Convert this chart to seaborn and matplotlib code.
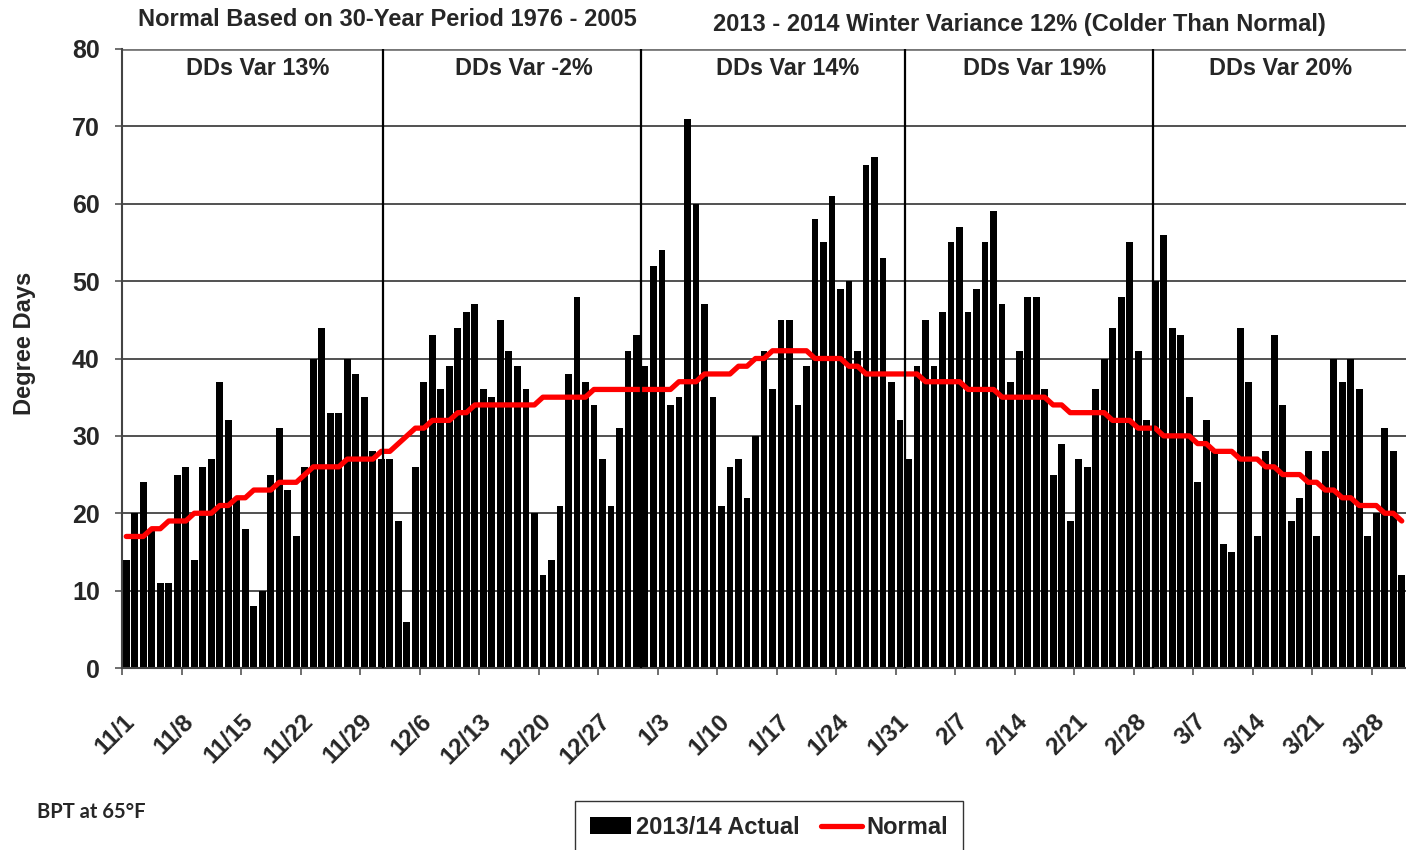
import numpy as np
import pandas as pd
import matplotlib
matplotlib.use("Agg")
import matplotlib.pyplot as plt
import matplotlib.transforms as mtransforms
import seaborn as sns

# ---- data ----
actual_nov = [14, 20, 24, 18, 11, 11, 25, 26, 14, 26, 27, 37, 32, 22, 18, 8, 10, 25, 31, 23,
              17, 26, 40, 44, 33, 33, 40, 38, 35, 28]
actual_dec = [27, 27, 19, 6, 26, 37, 43, 36, 39, 44, 46, 47, 36, 35, 45, 41, 39, 36, 20, 12,
              14, 21, 38, 48, 37, 34, 27, 21, 31, 41, 43]
actual_jan = [39, 52, 54, 34, 35, 71, 60, 47, 35, 21, 26, 27, 22, 30, 41, 36, 45, 45, 34, 39,
              58, 55, 61, 49, 50, 41, 65, 66, 53, 37, 32]
actual_feb = [27, 39, 45, 39, 46, 55, 57, 46, 49, 55, 59, 47, 37, 41, 48, 48, 36, 25, 29, 19,
              27, 26, 36, 40, 44, 48, 55, 41]
actual_mar = [32, 50, 56, 44, 43, 35, 24, 32, 28, 16, 15, 44, 37, 17, 28, 43, 34, 19, 22, 28,
              17, 28, 40, 37, 40, 36, 17, 20, 31, 28, 12]

normal_nov = [17, 17, 17, 18, 18, 19, 19, 19, 20, 20, 20, 21, 21, 22, 22, 23, 23, 23, 24, 24,
              24, 25, 26, 26, 26, 26, 27, 27, 27, 27]
normal_dec = [28, 28, 29, 30, 31, 31, 32, 32, 32, 33, 33, 34, 34, 34, 34, 34, 34, 34, 34, 35,
              35, 35, 35, 35, 35, 36, 36, 36, 36, 36, 36]
normal_jan = [36, 36, 36, 36, 37, 37, 37, 38, 38, 38, 38, 39, 39, 40, 40, 41, 41, 41, 41, 41,
              40, 40, 40, 40, 39, 39, 38, 38, 38, 38, 38]
normal_feb = [38, 38, 37, 37, 37, 37, 37, 36, 36, 36, 36, 35, 35, 35, 35, 35, 35, 34, 34, 33,
              33, 33, 33, 33, 32, 32, 32, 31]
normal_mar = [31, 31, 30, 30, 30, 30, 29, 29, 28, 28, 28, 27, 27, 27, 26, 26, 25, 25, 25, 24,
              24, 23, 23, 22, 22, 21, 21, 21, 20, 20, 19]

section_labels = ["DDs Var 13%", "DDs Var -2%", "DDs Var 14%", "DDs Var 19%", "DDs Var 20%"]
section_label_x = [15.4, 46.8, 77.8, 106.8, 135.7]
divider_x = [30.2, 60.54, 91.55, 120.7]

title_left = "Normal Based on 30-Year Period 1976 - 2005"
title_right = "2013 - 2014 Winter Variance 12% (Colder Than Normal)"
note_text = "BPT at 65\u00b0F"
y_label = "Degree Days"
series_actual = "2013/14 Actual"
series_normal = "Normal"

# ---- build table ----
dates = pd.date_range("2013-11-01", "2014-03-31", freq="D")
actual = actual_nov + actual_dec + actual_jan + actual_feb + actual_mar
normal = normal_nov + normal_dec + normal_jan + normal_feb + normal_mar
df = pd.DataFrame({
    "day": [f"{d.month}/{d.day}" for d in dates],
    "pos": np.arange(len(dates)),
    "actual": actual,
    "normal": normal,
})

sns.set_theme(style="white")
plt.rcParams["font.family"] = ["Liberation Sans", "DejaVu Sans"]
plt.rcParams["font.weight"] = "bold"

fig = plt.figure(figsize=(14.06, 8.5), dpi=100)
L, R, T, B = 122, 1406, 49, 668
W, H = 1406, 850
ax = fig.add_axes([L / W, (H - B) / H, (R - L) / W, (B - T) / H])

sns.barplot(data=df, x="day", y="actual", color="black", saturation=1, width=0.8,
            label=series_actual, ax=ax, zorder=2, linewidth=0)
sns.lineplot(data=df, x="pos", y="normal", color="#ff0000", linewidth=3.8,
             label=series_normal, ax=ax, zorder=4)

ax.set_xlim(-0.5, len(df) - 0.5)
ax.set_ylim(0, 80)
ax.set_yticks(np.arange(0, 81, 10))
ax.yaxis.grid(True, color="#222222", linewidth=1.1)
ax.set_axisbelow(True)
ax.get_ygridlines()[-1].set_color("#777777")
ax.get_ygridlines()[-1].set_linewidth(2)

for xv in divider_x:
    ax.axvline(xv, color="black", linewidth=1.6, zorder=5)
for lbl, xv in zip(section_labels, section_label_x):
    ax.text(xv, 77.5, lbl, ha="center", va="center", fontsize=16.8, fontweight="bold")

tick_idx = np.arange(0, len(df), 7)
ax.set_xticks(tick_idx - 0.5)
ax.set_xticklabels(df["day"].iloc[tick_idx], rotation=45, ha="right", va="center",
                   rotation_mode="anchor", fontsize=17.5, fontweight="bold")
ax.tick_params(axis="x", length=5, width=1.2, color="#555555", pad=31, bottom=True)
ax.tick_params(axis="y", length=5, width=1.2, color="#555555", labelsize=18, pad=11, left=True)
off = mtransforms.ScaledTranslation(9 / 100, 0, fig.dpi_scale_trans)
for t in ax.get_xticklabels():
    t.set_transform(t.get_transform() + off)
for t in ax.get_yticklabels():
    t.set_fontweight("bold")

for s in ["top", "right"]:
    ax.spines[s].set_visible(False)
for s in ["left", "bottom"]:
    ax.spines[s].set_color("#444444")
    ax.spines[s].set_linewidth(1.5)

ax.set_xlabel("")
ax.set_ylabel("")
fig.text(25 / W, 1 - 343 / H, y_label, rotation=90, ha="center", va="center",
         fontsize=17, fontweight="bold")

fig.text(387 / W, 1 - 19 / H, title_left, ha="center", va="center", fontsize=17,
         fontweight="bold")
fig.text(1019 / W, 1 - 24 / H, title_right, ha="center", va="center", fontsize=17,
         fontweight="bold")
fig.text(37 / W, 1 - 812 / H, note_text, ha="left", va="center", fontsize=14.5,
         fontweight="bold", family=["Lato", "DejaVu Sans"])

handles, labels = ax.get_legend_handles_labels()
if ax.get_legend() is not None:
    ax.get_legend().remove()
order = [labels.index(series_actual), labels.index(series_normal)]
handles = [handles[i] for i in order]
labels = [labels[i] for i in order]
leg = fig.legend(handles, labels, loc="upper left", bbox_to_anchor=(575 / W, 1 - 801 / H),
                 ncol=2, frameon=True, fancybox=False, fontsize=17, borderpad=0.63,
                 handlelength=1.75, handletextpad=0.2, columnspacing=0.9,
                 edgecolor="black", borderaxespad=0)
leg.get_frame().set_linewidth(1.0)
for t in leg.get_texts():
    t.set_fontweight("bold")

fig.savefig("out.png", dpi=100)
